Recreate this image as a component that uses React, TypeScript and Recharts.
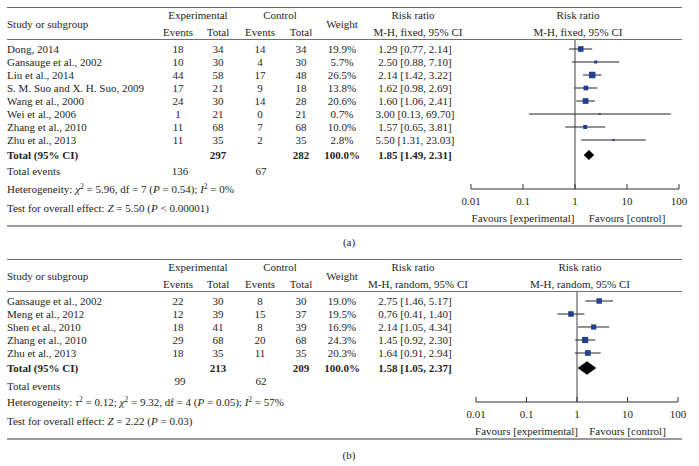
import React from "react"
import { ComposedChart, Scatter, XAxis, YAxis, ReferenceLine, ErrorBar } from "recharts"

// (a) fixed effect
const studiesA = [
  "Dong, 2014",
  "Gansauge et al., 2002",
  "Liu et al., 2014",
  "S. M. Suo and X. H. Suo, 2009",
  "Wang et al., 2000",
  "Wei et al., 2006",
  "Zhang et al., 2010",
  "Zhu et al., 2013",
]
const expEventsA = [18, 10, 44, 17, 24, 1, 11, 11]
const expTotalA = [34, 30, 58, 21, 30, 21, 68, 35]
const ctlEventsA = [14, 4, 17, 9, 14, 0, 7, 2]
const ctlTotalA = [34, 30, 48, 18, 28, 21, 68, 35]
const weightA = [19.9, 5.7, 26.5, 13.8, 20.6, 0.7, 10.0, 2.8]
const rrA = [1.29, 2.5, 2.14, 1.62, 1.6, 3.0, 1.57, 5.5]
const lowA = [0.77, 0.88, 1.42, 0.98, 1.06, 0.13, 0.65, 1.31]
const highA = [2.14, 7.1, 3.22, 2.69, 2.41, 69.7, 3.81, 23.03]
const totalsA = [297, 282]
const totalEventsA = [136, 67]
const pooledA = [1.85, 1.49, 2.31]
const hetA = [5.96, 7, 0.54, 0] // chi2, df, P, I2
const effectA = [5.5] // Z

// (b) random effects
const studiesB = [
  "Gansauge et al., 2002",
  "Meng et al., 2012",
  "Shen et al., 2010",
  "Zhang et al., 2010",
  "Zhu et al., 2013",
]
const expEventsB = [22, 12, 18, 29, 18]
const expTotalB = [30, 39, 41, 68, 35]
const ctlEventsB = [8, 15, 8, 20, 11]
const ctlTotalB = [30, 37, 39, 68, 35]
const weightB = [19.0, 19.5, 16.9, 24.3, 20.3]
const rrB = [2.75, 0.76, 2.14, 1.45, 1.64]
const lowB = [1.46, 0.41, 1.05, 0.92, 0.91]
const highB = [5.17, 1.4, 4.34, 2.3, 2.94]
const totalsB = [213, 209]
const totalEventsB = [99, 62]
const pooledB = [1.58, 1.05, 2.37]
const hetB = [0.12, 9.32, 4, 0.05, 57] // tau2, chi2, df, P, I2
const effectB = [2.22, 0.03] // Z, P

const axisTicks = [0.01, 0.1, 1, 10, 100]

const FONT = '"Liberation Serif", "DejaVu Serif", serif'
const INK = "#231f20"

function Txt({ x, y, a = "c", b = false, children }: any) {
  const tx = a === "c" ? "-50%" : a === "r" ? "-100%" : "0"
  return (
    <div
      style={{
        position: "absolute",
        left: x,
        top: y,
        transform: `translate(${tx}, -50%)`,
        whiteSpace: "nowrap",
        lineHeight: "13px",
        fontWeight: b ? "bold" : "normal",
      }}
    >
      {children}
    </div>
  )
}

const Sup = ({ children }: any) => (
  <sup style={{ fontSize: 7.5, lineHeight: 0, verticalAlign: "4px" }}>{children}</sup>
)

function AxisTick(props: any) {
  const { x, y, payload } = props
  return (
    <g>
      <line x1={x} y1={y} x2={x} y2={y - 5} stroke="#333" strokeWidth={1} />
      <text x={x} y={y + 16} textAnchor="middle" fontSize={11} fontFamily={FONT} fill={INK}>
        {String(payload.value)}
      </text>
    </g>
  )
}

const renderSquare = (p: any) => {
  const s = Math.max(1.8, 1.26 * Math.sqrt(p.payload.w))
  return <rect x={p.cx - s / 2} y={p.cy - s / 2} width={s} height={s} fill="#22408f" />
}

const renderDiamond = (p: any) => (
  <polygon
    points={(p.points || []).map((pt: any) => `${pt.x},${pt.y}`).join(" ")}
    fill="#000"
    stroke="#000"
    strokeWidth={0.5}
  />
)

function Panel(props: any) {
  const {
    top, letter, method, studies, expEvents, expTotal, ctlEvents, ctlTotal, weight,
    rr, low, high, totals, totalEvents, pooled, plotL, plotR, diamondH, evNumDy, evLabelDy,
    hetLine, effectLine,
  } = props
  const n = studies.length
  const rowY = (i: number) => 49 + 13 * i
  const totY = rowY(n - 1) + 15
  const axisY = totY + 34
  const plotTop = 39
  const plotH = axisY - plotTop
  const pad = 25
  const d0 = -(rowY(0) - plotTop) / 13
  const d1 = d0 + plotH / 13
  const totIdx = (totY - rowY(0)) / 13

  const points = studies.map((_: string, i: number) => ({
    x: rr[i],
    y: i,
    w: weight[i],
    err: [rr[i] - low[i], high[i] - rr[i]],
  }))
  const diamond = [
    { x: pooled[1], y: totIdx },
    { x: pooled[0], y: totIdx - diamondH },
    { x: pooled[2], y: totIdx },
    { x: pooled[0], y: totIdx + diamondH },
  ]
  const mid = (plotL + plotR) / 2

  return (
    <div style={{ position: "absolute", left: 0, top, width: 699, height: 260 }}>
      <div style={{ position: "absolute", left: 7, top: 6.5, width: 675, height: 1, background: "#6a6a6a" }} />
      <div style={{ position: "absolute", left: 7, top: 38.5, width: 675, height: 1, background: "#707070" }} />

      <Txt x={7} y={24} a="l">Study or subgroup</Txt>
      <Txt x={198} y={15}>Experimental</Txt>
      <Txt x={280} y={15}>Control</Txt>
      <Txt x={178} y={32}>Events</Txt>
      <Txt x={218} y={32}>Total</Txt>
      <Txt x={260} y={32}>Events</Txt>
      <Txt x={301} y={32}>Total</Txt>
      <Txt x={342} y={24}>Weight</Txt>
      <Txt x={413} y={15}>Risk ratio</Txt>
      <Txt x={418} y={32}>{method}</Txt>
      <Txt x={mid + 3} y={15}>Risk ratio</Txt>
      <Txt x={mid + 3} y={32}>{method}</Txt>

      {studies.map((s: string, i: number) => (
        <React.Fragment key={s}>
          <Txt x={7} y={rowY(i)} a="l">{s}</Txt>
          <Txt x={178} y={rowY(i)}>{expEvents[i]}</Txt>
          <Txt x={218} y={rowY(i)}>{expTotal[i]}</Txt>
          <Txt x={260} y={rowY(i)}>{ctlEvents[i]}</Txt>
          <Txt x={301} y={rowY(i)}>{ctlTotal[i]}</Txt>
          <Txt x={342} y={rowY(i)}>{weight[i].toFixed(1)}%</Txt>
          <Txt x={415} y={rowY(i)}>
            {rr[i].toFixed(2)} [{low[i].toFixed(2)}, {high[i].toFixed(2)}]
          </Txt>
        </React.Fragment>
      ))}

      <Txt x={7} y={totY} a="l" b>Total (95% CI)</Txt>
      <Txt x={218} y={totY} b>{totals[0]}</Txt>
      <Txt x={301} y={totY} b>{totals[1]}</Txt>
      <Txt x={342} y={totY} b>100.0%</Txt>
      <Txt x={415} y={totY} b>
        {pooled[0].toFixed(2)} [{pooled[1].toFixed(2)}, {pooled[2].toFixed(2)}]
      </Txt>

      <Txt x={7} y={totY + evLabelDy} a="l">Total events</Txt>
      <Txt x={180} y={totY + evNumDy}>{totalEvents[0]}</Txt>
      <Txt x={261} y={totY + evNumDy}>{totalEvents[1]}</Txt>
      <Txt x={7} y={totY + 34} a="l">{hetLine}</Txt>
      <Txt x={7} y={totY + 53} a="l">{effectLine}</Txt>

      <div style={{ position: "absolute", left: plotL - pad, top: plotTop }}>
        <ComposedChart
          width={plotR - plotL + 2 * pad}
          height={plotH + 40}
          margin={{ top: 0, right: pad, left: pad, bottom: 0 }}
        >
          <XAxis
            type="number"
            dataKey="x"
            scale="log"
            domain={[0.01, 100]}
            ticks={axisTicks}
            interval={0}
            allowDataOverflow
            height={40}
            axisLine={{ stroke: "#333", strokeWidth: 1 }}
            tickLine={false}
            tickSize={0}
            tickMargin={0}
            tick={<AxisTick />}
          />
          <YAxis type="number" dataKey="y" domain={[d0, d1]} reversed hide allowDataOverflow />
          <ReferenceLine x={1} stroke="#808080" strokeWidth={1.5} />
          <Scatter data={points} isAnimationActive={false} shape={renderSquare}>
            <ErrorBar dataKey="err" direction="x" width={0} stroke="#222" strokeWidth={1} />
          </Scatter>
          <Scatter data={diamond} isAnimationActive={false} shape={() => <g />} line={renderDiamond} />
        </ComposedChart>
      </div>

      <Txt x={(plotL + mid) / 2} y={totY + 63}>Favours [experimental]</Txt>
      <Txt x={(mid + plotR) / 2} y={totY + 63}>Favours [control]</Txt>

      <div style={{ position: "absolute", left: 7, top: totY + 70, width: 675, height: 2, background: "#9a9a9a" }} />
      <Txt x={349} y={totY + 87}>({letter})</Txt>
    </div>
  )
}

export default function App() {
  const hetLineA = (
    <>
      Heterogeneity: <i>χ</i><Sup>2</Sup> = {hetA[0].toFixed(2)}, df = {hetA[1]} (<i>P</i> = {hetA[2].toFixed(2)}); <i>I</i><Sup>2</Sup> = {hetA[3]}%
    </>
  )
  const effectLineA = (
    <>
      Test for overall effect: <i>Z</i> = {effectA[0].toFixed(2)} (<i>P</i> &lt; 0.00001)
    </>
  )
  const hetLineB = (
    <>
      Heterogeneity: <i>τ</i><Sup>2</Sup> = {hetB[0].toFixed(2)}; <i>χ</i><Sup>2</Sup> = {hetB[1].toFixed(2)}, df = {hetB[2]} (<i>P</i> = {hetB[3].toFixed(2)}); <i>I</i><Sup>2</Sup> = {hetB[4]}%
    </>
  )
  const effectLineB = (
    <>
      Test for overall effect: <i>Z</i> = {effectB[0].toFixed(2)} (<i>P</i> = {effectB[1].toFixed(2)})
    </>
  )

  return (
    <div
      style={{
        position: "absolute",
        left: 0,
        top: 0,
        width: 699,
        height: 466,
        background: "#fff",
        overflow: "hidden",
        fontFamily: FONT,
        fontSize: 11,
        color: INK,
      }}
    >
      <Panel
        top={0}
        letter="a"
        method="M-H, fixed, 95% CI"
        studies={studiesA}
        expEvents={expEventsA}
        expTotal={expTotalA}
        ctlEvents={ctlEventsA}
        ctlTotal={ctlTotalA}
        weight={weightA}
        rr={rrA}
        low={lowA}
        high={highA}
        totals={totalsA}
        totalEvents={totalEventsA}
        pooled={pooledA}
        plotL={471}
        plotR={679}
        diamondH={0.36}
        evNumDy={16}
        evLabelDy={16}
        hetLine={hetLineA}
        effectLine={effectLineA}
      />
      <Panel
        top={252}
        letter="b"
        method="M-H, random, 95% CI"
        studies={studiesB}
        expEvents={expEventsB}
        expTotal={expTotalB}
        ctlEvents={ctlEventsB}
        ctlTotal={ctlTotalB}
        weight={weightB}
        rr={rrB}
        low={lowB}
        high={highB}
        totals={totalsB}
        totalEvents={totalEventsB}
        pooled={pooledB}
        plotL={476}
        plotR={678}
        diamondH={0.5}
        evNumDy={13}
        evLabelDy={18}
        hetLine={hetLineB}
        effectLine={effectLineB}
      />
    </div>
  )
}
